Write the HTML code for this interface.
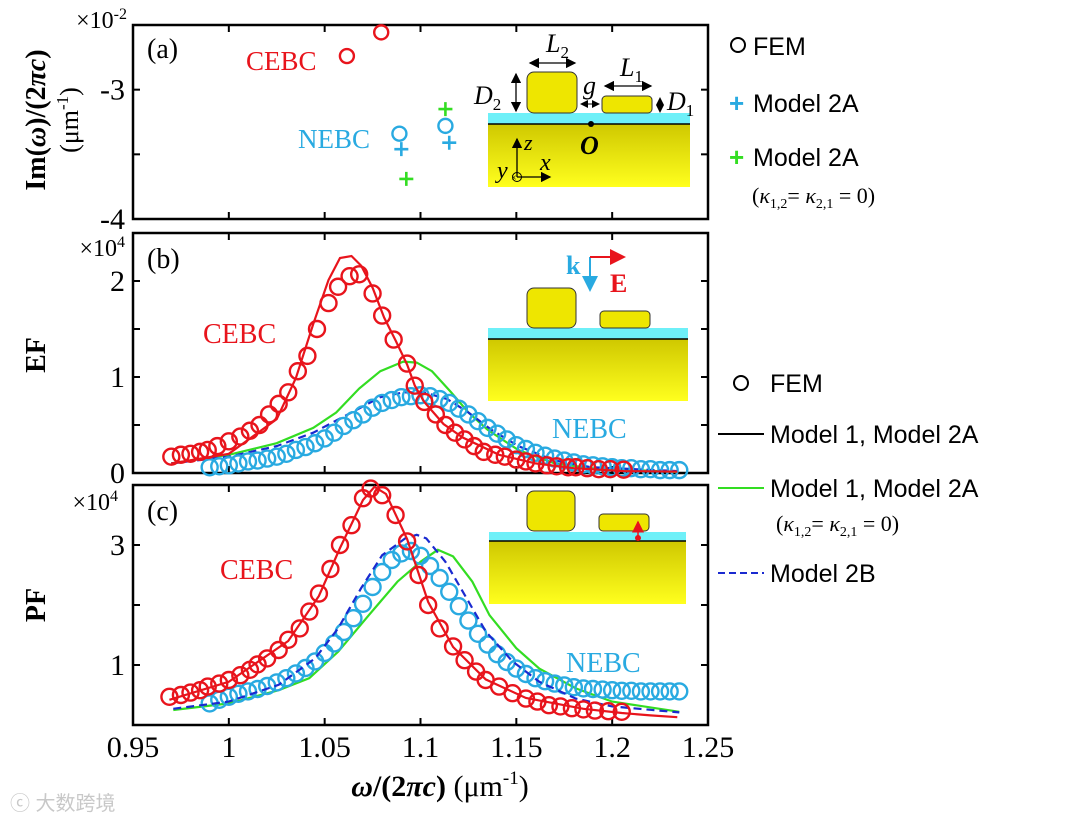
<!DOCTYPE html>
<html><head><meta charset="utf-8"><style>
html,body{margin:0;padding:0;background:#fff;}
svg{display:block;font-family:"Liberation Serif",serif;}
</style></head><body>
<svg id="fig" width="1080" height="825" viewBox="0 0 1080 825" xmlns="http://www.w3.org/2000/svg">
<defs>
<linearGradient id="gold" x1="0" y1="0" x2="0" y2="1"><stop offset="0" stop-color="#cfc800"/><stop offset="1" stop-color="#ffff1e"/></linearGradient>
<marker id="ah" markerWidth="8" markerHeight="8" refX="7" refY="4" orient="auto-start-reverse"><path d="M0,0 L8,4 L0,8 z" fill="#000"/></marker>
<marker id="ahr" markerWidth="8" markerHeight="8" refX="7" refY="4" orient="auto"><path d="M0,0 L8,4 L0,8 z" fill="#e8141c"/></marker>
<marker id="ahb" markerWidth="8" markerHeight="8" refX="7" refY="4" orient="auto"><path d="M0,0 L8,4 L0,8 z" fill="#29aae1"/></marker>
</defs>
<g id="marks"></g>
<g id="static">
<text transform="translate(45,120) rotate(-90)" text-anchor="middle" font-size="28" font-weight="bold">Im(<tspan font-style="italic">ω</tspan>)/(2<tspan font-style="italic">πc</tspan>)</text>
<text transform="translate(78,120) rotate(-90)" text-anchor="middle" font-size="26">(μm<tspan dy="-10" font-size="17">-1</tspan><tspan dy="10">)</tspan></text>
<text transform="translate(45,355) rotate(-90)" text-anchor="middle" font-size="28" font-weight="bold">EF</text>
<text transform="translate(45,605) rotate(-90)" text-anchor="middle" font-size="28" font-weight="bold">PF</text>
<text x="440" y="796" text-anchor="middle" font-size="30"><tspan font-weight="bold" font-style="italic">ω</tspan><tspan font-weight="bold">/(2</tspan><tspan font-weight="bold" font-style="italic">πc</tspan><tspan font-weight="bold">)</tspan> (μm<tspan dy="-12" font-size="19">-1</tspan><tspan dy="12">)</tspan></text>
<text x="127" y="28" text-anchor="end" font-size="24">×10<tspan dy="-9" font-size="16">-2</tspan></text>
<text x="125" y="256" text-anchor="end" font-size="24">×10<tspan dy="-9" font-size="16">4</tspan></text>
<text x="118" y="510" text-anchor="end" font-size="24">×10<tspan dy="-9" font-size="16">4</tspan></text>
<text x="147" y="58" font-size="28">(a)</text>
<text x="147" y="268" font-size="28">(b)</text>
<text x="147" y="520" font-size="28">(c)</text>
<text x="246" y="70" font-size="27" fill="#e8141c">CEBC</text>
<text x="298" y="148" font-size="27" fill="#29aae1">NEBC</text>
<text x="203" y="343" font-size="28" fill="#e8141c">CEBC</text>
<text x="552" y="438" font-size="28" fill="#29aae1">NEBC</text>
<text x="220" y="579" font-size="28" fill="#e8141c">CEBC</text>
<text x="566" y="672" font-size="28" fill="#29aae1">NEBC</text>

<g>
<rect x="488" y="124" width="202" height="63" fill="url(#gold)"/>
<rect x="488" y="113" width="202" height="11" fill="#6ef0f8"/>
<line x1="488" y1="124" x2="690" y2="124" stroke="#000" stroke-width="1.5"/>
<rect x="527" y="72" width="50" height="41" rx="7" fill="#eee600" stroke="#333" stroke-width="1"/>
<rect x="602" y="96" width="50" height="17" rx="4" fill="#eee600" stroke="#333" stroke-width="1"/>
<line x1="530" y1="63" x2="575" y2="63" stroke="#000" stroke-width="1.3" marker-start="url(#ah)" marker-end="url(#ah)"/>
<line x1="516" y1="74" x2="516" y2="111" stroke="#000" stroke-width="1.3" marker-start="url(#ah)" marker-end="url(#ah)"/>
<line x1="581" y1="104" x2="599" y2="104" stroke="#000" stroke-width="1" marker-start="url(#ah)" marker-end="url(#ah)"/>
<line x1="605" y1="86" x2="651" y2="86" stroke="#000" stroke-width="1.3" marker-start="url(#ah)" marker-end="url(#ah)"/>
<line x1="660" y1="98" x2="660" y2="112" stroke="#000" stroke-width="1" marker-start="url(#ah)" marker-end="url(#ah)"/>
<text x="546" y="52" font-size="26" font-style="italic">L<tspan font-size="17" font-style="normal" dy="6">2</tspan></text>
<text x="474" y="104" font-size="26" font-style="italic">D<tspan font-size="17" font-style="normal" dy="6">2</tspan></text>
<text x="583" y="94" font-size="26" font-style="italic">g</text>
<text x="620" y="76" font-size="26" font-style="italic">L<tspan font-size="17" font-style="normal" dy="6">1</tspan></text>
<text x="667" y="110" font-size="26" font-style="italic">D<tspan font-size="17" font-style="normal" dy="6">1</tspan></text>
<circle cx="591" cy="124" r="3" fill="#000"/>
<text x="580" y="154" font-size="26" font-weight="bold" font-style="italic">O</text>
<line x1="517" y1="177" x2="517" y2="139" stroke="#000" stroke-width="1.3" marker-end="url(#ah)"/>
<line x1="517" y1="177" x2="550" y2="177" stroke="#000" stroke-width="1.3" marker-end="url(#ah)"/>
<circle cx="517" cy="177" r="4.5" fill="none" stroke="#000" stroke-width="1"/>
<text x="511" y="181" font-size="10">×</text>
<text x="524" y="150" font-size="22" font-style="italic">z</text>
<text x="540" y="170" font-size="24" font-style="italic">x</text>
<text x="497" y="178" font-size="24" font-style="italic">y</text>
</g>
<g>
<rect x="488" y="339" width="200" height="62" fill="url(#gold)"/>
<rect x="488" y="328" width="200" height="11" fill="#6ef0f8"/>
<line x1="488" y1="339" x2="688" y2="339" stroke="#000" stroke-width="1.5"/>
<rect x="527" y="288" width="49" height="40" rx="7" fill="#eee600" stroke="#333" stroke-width="1"/>
<rect x="600" y="311" width="50" height="17" rx="4" fill="#eee600" stroke="#333" stroke-width="1"/>
<line x1="590" y1="257" x2="590" y2="290" stroke="#29aae1" stroke-width="2" marker-end="url(#ahb)"/>
<line x1="590" y1="257" x2="624" y2="257" stroke="#e8141c" stroke-width="2" marker-end="url(#ahr)"/>
<text x="566" y="274" font-size="26" font-weight="bold" fill="#29aae1">k</text>
<text x="610" y="292" font-size="26" font-weight="bold" fill="#e8141c">E</text>
</g>
<g>
<rect x="489" y="541" width="197" height="63" fill="url(#gold)"/>
<rect x="489" y="532" width="197" height="9" fill="#6ef0f8"/>
<line x1="489" y1="541" x2="686" y2="541" stroke="#000" stroke-width="1.5"/>
<rect x="527" y="491" width="48" height="40" rx="7" fill="#eee600" stroke="#333" stroke-width="1"/>
<rect x="599" y="514" width="50" height="17" rx="4" fill="#eee600" stroke="#333" stroke-width="1"/>
<line x1="638" y1="537" x2="638" y2="522" stroke="#e8141c" stroke-width="1.5" marker-end="url(#ahr)"/>
<circle cx="638" cy="538" r="3" fill="#e8141c"/>
</g>

<g>
<circle cx="738" cy="45" r="7" fill="none" stroke="#000" stroke-width="2"/>
<text x="753" y="55" font-family="Liberation Sans, sans-serif" font-size="25">FEM</text>
<text x="729" y="112" font-family="Liberation Sans, sans-serif" font-size="26" fill="#29aae1" font-weight="bold">+</text>
<text x="753" y="112" font-family="Liberation Sans, sans-serif" font-size="25">Model 2A</text>
<text x="729" y="166" font-family="Liberation Sans, sans-serif" font-size="26" fill="#33dd22" font-weight="bold">+</text>
<text x="753" y="166" font-family="Liberation Sans, sans-serif" font-size="25">Model 2A</text>
<text x="752" y="203" font-size="22">(<tspan font-style="italic">κ</tspan><tspan font-size="14" dy="5">1,2</tspan><tspan dy="-5">= </tspan><tspan font-style="italic">κ</tspan><tspan font-size="14" dy="5">2,1</tspan><tspan dy="-5"> = 0)</tspan></text>
</g>
<g>
<circle cx="741" cy="383" r="7" fill="none" stroke="#000" stroke-width="2"/>
<text x="770" y="392" font-family="Liberation Sans, sans-serif" font-size="25">FEM</text>
<line x1="718" y1="434" x2="764" y2="434" stroke="#000" stroke-width="2"/>
<text x="770" y="443" font-family="Liberation Sans, sans-serif" font-size="25">Model 1, Model 2A</text>
<line x1="718" y1="488" x2="764" y2="488" stroke="#33dd22" stroke-width="2"/>
<text x="770" y="497" font-family="Liberation Sans, sans-serif" font-size="25">Model 1, Model 2A</text>
<text x="776" y="531" font-size="22">(<tspan font-style="italic">κ</tspan><tspan font-size="14" dy="5">1,2</tspan><tspan dy="-5">= </tspan><tspan font-style="italic">κ</tspan><tspan font-size="14" dy="5">2,1</tspan><tspan dy="-5"> = 0)</tspan></text>
<line x1="718" y1="573" x2="764" y2="573" stroke="#1a2ad0" stroke-width="2" stroke-dasharray="7,4"/>
<text x="770" y="582" font-family="Liberation Sans, sans-serif" font-size="25">Model 2B</text>
</g>
<text x="10" y="810" font-family="Liberation Sans, Noto Sans CJK SC, sans-serif" font-size="20" fill="#c8c8c8">ⓒ 大数跨境</text>
</g>
</svg>
<script>
const xTicks = [0.95, 1, 1.05, 1.1, 1.15, 1.2, 1.25];
const xTickLabels = ["0.95", "1", "1.05", "1.1", "1.15", "1.2", "1.25"];
const aTicks = [-4, -3.5, -3];
const aTickLabels = ["-4", "", "-3"];
const bTicks = [0, 0.5, 1, 1.5, 2];
const bTickLabels = ["0", "", "1", "", "2"];
const cTicks = [1, 2, 3];
const cTickLabels = ["1", "", "3"];

const aRedCircX = [1.0616, 1.0795];
const aRedCircY = [-2.74, -2.557];
const aBlueCircX = [1.089, 1.113];
const aBlueCircY = [-3.34, -3.28];
const aBluePlusX = [1.090, 1.115];
const aBluePlusY = [-3.46, -3.41];
const aGreenPlusX = [1.0926, 1.113];
const aGreenPlusY = [-3.69, -3.15];

const bRedCircX = [0.970,0.975,0.980,0.985,0.989,0.994,1.0,1.006,1.011,1.016,1.021,1.026,1.031,1.036,1.041,1.046,1.052,1.057,1.063,1.068,1.075,1.080,1.086,1.093,1.097,1.102,1.108,1.113,1.118,1.123,1.128,1.133,1.139,1.144,1.150,1.155,1.160,1.166,1.171,1.177,1.181,1.187,1.193,1.199,1.206];
const bRedCircY = [0.17,0.19,0.2,0.22,0.24,0.28,0.33,0.38,0.44,0.50,0.61,0.72,0.84,1.06,1.22,1.50,1.77,1.94,2.05,2.07,1.87,1.64,1.39,1.14,0.91,0.74,0.61,0.50,0.42,0.35,0.28,0.22,0.19,0.17,0.14,0.12,0.10,0.08,0.07,0.06,0.06,0.05,0.04,0.04,0.035];
const bRedLineX = [0.970,1.0,1.025,1.035,1.044,1.052,1.058,1.064,1.069,1.075,1.081,1.087,1.093,1.097,1.102,1.112,1.122,1.141,1.160,1.180,1.206,1.234];
const bRedLineY = [0.10,0.2,0.56,0.99,1.55,2.01,2.24,2.26,2.16,1.93,1.62,1.38,1.13,0.91,0.74,0.51,0.37,0.19,0.10,0.05,0.02,0.015];
const bGreenX = [0.970,1.0,1.025,1.044,1.056,1.068,1.079,1.091,1.098,1.106,1.116,1.125,1.135,1.151,1.170,1.189,1.234];
const bGreenY = [0.10,0.19,0.31,0.47,0.63,0.88,1.06,1.16,1.15,1.06,0.84,0.63,0.45,0.24,0.10,0.05,0.01];
const bDashX = [0.970,1.0,1.025,1.044,1.064,1.079,1.091,1.102,1.114,1.125,1.137,1.151,1.170,1.189,1.234];
const bDashY = [0.1,0.17,0.28,0.42,0.63,0.79,0.84,0.84,0.77,0.63,0.45,0.28,0.13,0.06,0.02];
const bBlueCircX = [0.99,0.995,1.0,1.005,1.01,1.015,1.02,1.025,1.03,1.035,1.04,1.045,1.05,1.055,1.06,1.065,1.07,1.075,1.08,1.085,1.09,1.095,1.1,1.105,1.11,1.115,1.12,1.125,1.13,1.135,1.14,1.145,1.15,1.155,1.16,1.165,1.17,1.175,1.18,1.185,1.19,1.195,1.2,1.205,1.21,1.215,1.22,1.225,1.23,1.235];
const bBlueCircY = [0.06,0.07,0.08,0.1,0.12,0.13,0.15,0.17,0.2,0.24,0.27,0.31,0.36,0.42,0.49,0.55,0.61,0.68,0.73,0.76,0.79,0.8,0.81,0.80,0.77,0.73,0.67,0.61,0.54,0.47,0.41,0.35,0.29,0.25,0.21,0.18,0.15,0.13,0.11,0.09,0.08,0.07,0.06,0.05,0.05,0.04,0.04,0.03,0.03,0.03];

const cRedCircX = [0.969,0.975,0.980,0.985,0.989,0.995,1.0,1.006,1.011,1.015,1.020,1.026,1.031,1.037,1.042,1.047,1.053,1.058,1.064,1.070,1.074,1.080,1.087,1.093,1.099,1.104,1.110,1.117,1.123,1.129,1.134,1.141,1.148,1.155,1.161,1.167,1.173,1.179,1.185,1.191,1.198,1.205];
const cRedCircY = [0.47,0.5,0.54,0.58,0.64,0.69,0.75,0.83,0.92,1.01,1.11,1.25,1.42,1.61,1.89,2.19,2.6,3.0,3.33,3.78,3.94,3.83,3.5,3.06,2.5,2.0,1.61,1.31,1.08,0.89,0.75,0.64,0.53,0.44,0.39,0.33,0.31,0.28,0.26,0.24,0.23,0.22];
const cRedLineX = [0.969,1.0,1.031,1.047,1.058,1.070,1.076,1.082,1.093,1.104,1.117,1.134,1.155,1.185,1.205,1.22,1.234];
const cRedLineY = [0.42,0.72,1.4,2.15,2.95,3.75,3.97,3.85,3.1,2.05,1.3,0.76,0.45,0.27,0.2,0.16,0.13];
const cBlueCircX = [0.99,0.995,1.0,1.005,1.01,1.015,1.02,1.025,1.03,1.035,1.04,1.045,1.05,1.055,1.06,1.065,1.07,1.075,1.08,1.085,1.09,1.095,1.1,1.105,1.11,1.115,1.12,1.125,1.13,1.135,1.14,1.145,1.15,1.155,1.16,1.165,1.17,1.175,1.18,1.185,1.19,1.195,1.2,1.205,1.21,1.215,1.22,1.225,1.23,1.235];
const cBlueCircY = [0.36,0.42,0.47,0.52,0.56,0.6,0.65,0.71,0.78,0.86,0.95,1.06,1.2,1.36,1.55,1.78,2.02,2.3,2.55,2.75,2.86,2.9,2.82,2.65,2.45,2.22,1.98,1.74,1.52,1.34,1.18,1.05,0.94,0.85,0.78,0.73,0.69,0.66,0.63,0.61,0.6,0.59,0.58,0.57,0.57,0.56,0.56,0.56,0.56,0.56];
const cDashX = [0.971,1.0,1.026,1.045,1.057,1.069,1.080,1.092,1.098,1.103,1.113,1.123,1.134,1.148,1.162,1.181,1.200,1.235];
const cDashY = [0.27,0.39,0.67,1.11,1.61,2.28,2.83,3.11,3.17,3.11,2.72,2.17,1.56,1.06,0.72,0.44,0.31,0.21];
const cGreenX = [0.971,1.0,1.026,1.042,1.057,1.073,1.088,1.1,1.109,1.117,1.127,1.136,1.15,1.162,1.181,1.2,1.235];
const cGreenY = [0.25,0.36,0.58,0.78,1.22,1.83,2.39,2.72,2.92,2.81,2.39,1.83,1.28,0.94,0.61,0.39,0.22];

const NS = "http://www.w3.org/2000/svg";
const g = document.getElementById("marks");
const L = 133, R = 708;
function sx(x){ return L + (x - 0.95) / 0.30 * (R - L); }
const panels = {
  a:{top:25,bot:219,min:-4,max:-2.5},
  b:{top:233,bot:473,min:0,max:2.5},
  c:{top:485,bot:725,min:0,max:4}
};
function syF(p){ return v => p.bot - (v - p.min)/(p.max - p.min)*(p.bot - p.top); }
function mk(tag, attrs, parent){
  const e = document.createElementNS(NS, tag);
  for (const k in attrs) e.setAttribute(k, attrs[k]);
  (parent||g).appendChild(e);
  return e;
}
function axes(key, ticks, labels){
  const p = panels[key], sy = syF(p);
  const grp = mk("g", {});
  
  
  xTicks.forEach((t,i)=>{
    const x = sx(t);
    if (i>0 && i<xTicks.length-1){
      mk("line",{x1:x,y1:p.bot,x2:x,y2:p.bot-7,stroke:"#000","stroke-width":2},grp);
      mk("line",{x1:x,y1:p.top,x2:x,y2:p.top+7,stroke:"#000","stroke-width":2},grp);
    }
  });
  ticks.forEach((t,i)=>{
    const y = sy(t);
    mk("line",{x1:L,y1:y,x2:L+7,y2:y,stroke:"#000","stroke-width":2},grp);
    mk("line",{x1:R,y1:y,x2:R-7,y2:y,stroke:"#000","stroke-width":2},grp);
    if (labels[i]){
      const t2 = mk("text",{x:L-8,y:y+10,"text-anchor":"end","font-size":30},grp);
      t2.textContent = labels[i];
      
      
    }
  });
  const box = mk("rect",{x:L,y:p.top,width:R-L,height:p.bot-p.top,fill:"none",stroke:"#000","stroke-width":2.5},grp);
  
  
}
function line(key, xs, ys, color, dash, name){
  const sy = syF(panels[key]);
  const d = xs.map((x,i)=>(i?"L":"M")+sx(x).toFixed(1)+","+sy(ys[i]).toFixed(1)).join(" ");
  const e = mk("path",{d:d,fill:"none",stroke:color,"stroke-width":2.2});
  if (dash) e.setAttribute("stroke-dasharray", dash);
  
  
}
function circles(key, xs, ys, color, r, name){
  const sy = syF(panels[key]);
  const grp = mk("g",{});
  
  
  xs.forEach((x,i)=>{
    const c = mk("circle",{cx:sx(x),cy:sy(ys[i]),r:r,fill:"none",stroke:color,"stroke-width":2.4},grp);
    
    
  });
}
function pluses(key, xs, ys, color, name){
  const sy = syF(panels[key]);
  const grp = mk("g",{});
  
  
  xs.forEach((x,i)=>{
    const cx = sx(x), cy = sy(ys[i]);
    const pth = mk("path",{d:`M${cx-7},${cy}H${cx+7}M${cx},${cy-7}V${cy+7}`,stroke:color,"stroke-width":2.6},grp);
    
    
  });
}

axes("a", aTicks, aTickLabels);
axes("b", bTicks, bTickLabels);
axes("c", cTicks, cTickLabels);

xTicks.forEach((t,i)=>{
  const e = mk("text",{x:sx(t),y:757,"text-anchor":"middle","font-size":30});
  e.textContent = xTickLabels[i];
  
  
});

circles("a", aRedCircX, aRedCircY, "#e8141c", 7, "a-cebc-fem");
circles("a", aBlueCircX, aBlueCircY, "#29aae1", 7, "a-nebc-fem");
pluses("a", aBluePlusX, aBluePlusY, "#29aae1", "a-model2a");
pluses("a", aGreenPlusX, aGreenPlusY, "#33dd22", "a-model2a-uncoupled");

line("b", bGreenX, bGreenY, "#33dd22", null, "b-green-line");
line("b", bDashX, bDashY, "#1a2ad0", "8,5", "b-model2b-line");
circles("b", bBlueCircX, bBlueCircY, "#29aae1", 8, "b-nebc-fem");
line("b", bRedLineX, bRedLineY, "#e8141c", null, "b-cebc-line");
circles("b", bRedCircX, bRedCircY, "#e8141c", 8, "b-cebc-fem");

line("c", cGreenX, cGreenY, "#33dd22", null, "c-green-line");
circles("c", cBlueCircX, cBlueCircY, "#29aae1", 8, "c-nebc-fem");
line("c", cDashX, cDashY, "#1a2ad0", "8,5", "c-model2b-line");
line("c", cRedLineX, cRedLineY, "#e8141c", null, "c-cebc-line");
circles("c", cRedCircX, cRedCircY, "#e8141c", 8, "c-cebc-fem");
</script>
</body></html>
